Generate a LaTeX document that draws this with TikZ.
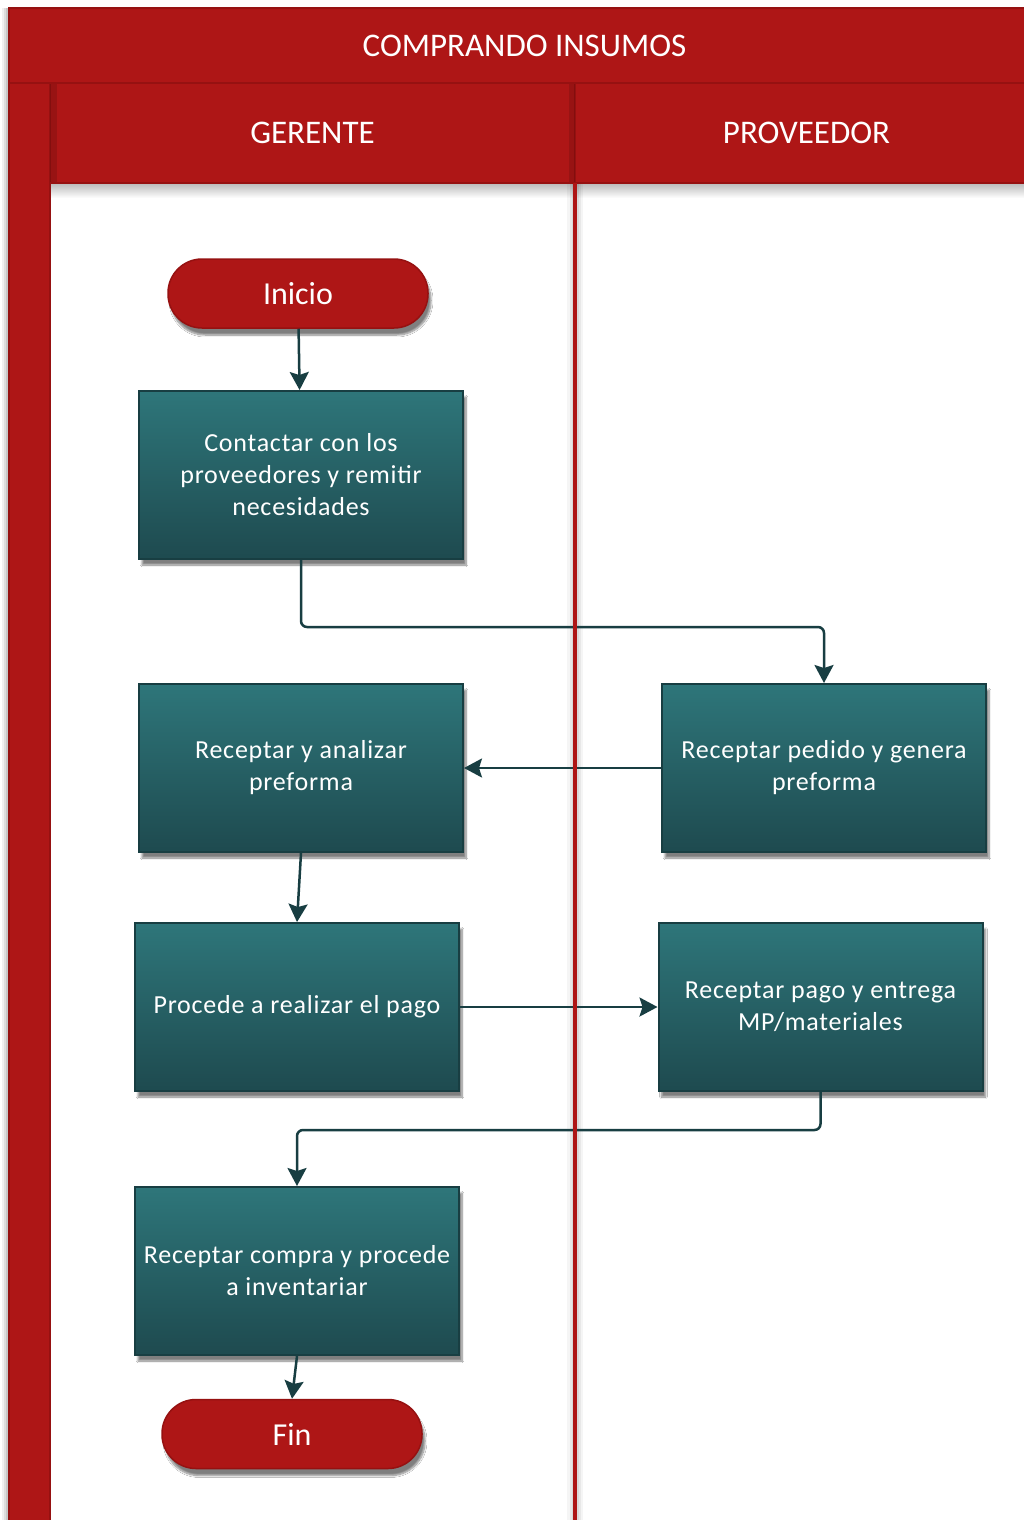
\documentclass[tikz,border=0pt]{standalone}
\usepackage{fontspec}
\setmainfont{Carlito}
\newfontfamily\boxfont[LetterSpace=3]{Carlito}
\usetikzlibrary{arrows.meta,shadows.blur}

\definecolor{lanered}{RGB}{174,22,22}
\definecolor{laneedge}{RGB}{150,17,17}
\definecolor{tealtop}{RGB}{46,118,122}
\definecolor{tealbot}{RGB}{30,74,79}
\definecolor{tealedge}{RGB}{24,62,66}

\begin{document}
\begin{tikzpicture}[x=1pt,y=-1pt,
  lanehead/.style={rectangle, fill=lanered, draw=laneedge, line width=1.5pt,
    text=white, font=\fontsize{33}{38}\selectfont, inner sep=0pt},
  stepbox/.style={rectangle, minimum width=324pt, minimum height=168pt,
    top color=tealtop, bottom color=tealbot, draw=tealedge, line width=2pt,
    text=white, align=center, font=\boxfont\fontsize{26}{32}\selectfont,
    blur shadow={shadow xshift=3pt, shadow yshift=-6pt, shadow blur steps=8, shadow opacity=50}},
  terminal/.style={rectangle, rounded corners=34pt, minimum width=260pt, minimum height=69pt,
    fill=lanered, draw=laneedge, line width=1.5pt, text=white,
    font=\fontsize{32}{36}\selectfont,
    blur shadow={shadow xshift=3pt, shadow yshift=-7pt, shadow blur steps=8, shadow opacity=50}},
  flow/.style={draw=tealedge, line width=2.5pt,
    -{Stealth[length=18pt,width=19pt,inset=3pt]}},
  divider/.style={draw=lanered, line width=4pt}
]
\useasboundingbox (0,0) rectangle (1024,1520);
\clip (0,0) rectangle (1024,1520);
\fill[white] (0,0) rectangle (1024,1520);

% soft shade around the pool frame
\foreach \w/\o in {14/0.06,10/0.08,6/0.10} {
  \fill[black,opacity=\o] (9-\w/2,8) rectangle (9,1530);
}
\shade[top color=black!45, bottom color=white, opacity=0.6] (50,183) rectangle (1030,198);
\foreach \w/\o in {16/0.04,11/0.05,7/0.06} {
  \fill[black,opacity=\o] (575-\w/2,183) rectangle (575+\w/2,1530);
}

% pool title and lanes
\node[lanehead, minimum width=1031pt, minimum height=75pt] (pool) at (524.5,45.5) {COMPRANDO INSUMOS};
\node[lanehead, minimum width=41pt, minimum height=1450pt] (poolbar) at (29.5,808) {};
\node[lanehead, minimum width=525pt, minimum height=100pt] (lanegerente) at (312.5,133) {GERENTE};
\node[lanehead, minimum width=463pt, minimum height=100pt] (laneprov) at (806.5,133) {PROVEEDOR};
\fill[black,opacity=0.12] (50,84) rectangle (57,182);
\fill[black,opacity=0.12] (569,84) rectangle (575,182);

% flow elements
\node[terminal] (inicio) at (298,293.5) {Inicio};
\node[stepbox] (contactar) at (301,475) {Contactar con los\\proveedores y remitir\\necesidades};
\node[stepbox] (analizar) at (301,768) {Receptar y analizar\\preforma};
\node[stepbox] (pedido) at (824,768) {Receptar pedido y genera\\preforma};
\node[stepbox] (pago) at (297,1007) {Procede a realizar el pago};
\node[stepbox] (entrega) at (820.5,1007) {Receptar pago y entrega\\MP/materiales};
\node[stepbox] (inventario) at (297,1271) {Receptar compra y procede\\a inventariar};
\node[terminal] (fin) at (292,1434) {Fin};

% connectors
\draw[flow] (inicio) -- (contactar);
\draw[flow, rounded corners=6pt] (contactar.south) -- (contactar.south |- 0,627) -| (pedido.north);
\draw[flow] (pedido.west) -- (analizar.east);
\draw[flow] (analizar.south) -- (pago.north);
\draw[flow] (pago.east) -- (entrega.west);
\draw[flow, rounded corners=6pt] (entrega.south) -- (entrega.south |- 0,1130) -| (inventario.north);
\draw[flow] (inventario.south) -- (fin.north);

% lane divider on top of the connectors
\draw[divider] (575,183) -- (575,1530);
\end{tikzpicture}
\end{document}
